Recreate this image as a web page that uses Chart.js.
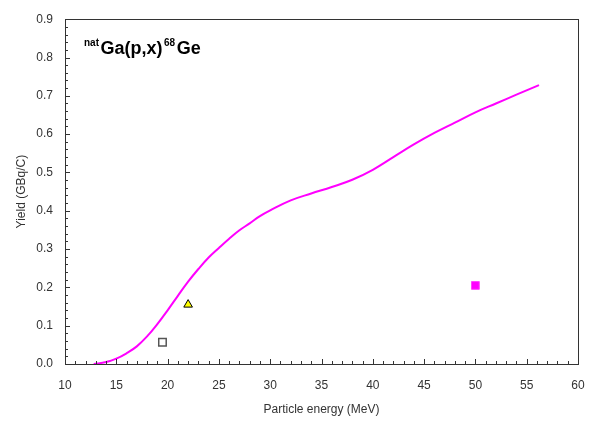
<!DOCTYPE html>
<html>
<head>
<meta charset="utf-8">
<script src="https://cdn.jsdelivr.net/npm/chart.js@4"></script>
<style>
  html, body { margin: 0; padding: 0; background: #fff; }
  #wrap { width: 602px; height: 429px; }
</style>
</head>
<body>
<div id="wrap"><canvas id="yield-chart" width="602" height="429"></canvas></div>
<script>
// calculated thick target yield curve
const curveEnergy = [12.8, 14, 15, 16, 17, 18, 19, 20, 21, 22, 23, 24, 25, 26, 27, 28, 29, 30, 32, 34, 36, 38, 40, 42, 44, 46, 48, 50, 52, 54, 56.2];
const curveYield  = [0.000, 0.005, 0.014, 0.028, 0.046, 0.072, 0.104, 0.140, 0.178, 0.215, 0.248, 0.278, 0.303, 0.327, 0.349, 0.367, 0.386, 0.401, 0.427, 0.445, 0.462, 0.481, 0.507, 0.540, 0.573, 0.603, 0.630, 0.657, 0.680, 0.703, 0.728];

// measured points
const openSquare = [{ x: 19.5, y: 0.057 }];
const triangle = [{ x: 22.0, y: 0.155 }];
const filledSquare = [{ x: 50.0, y: 0.205 }];

const xTicks = [10, 15, 20, 25, 30, 35, 40, 45, 50, 55, 60];
const yTicks = [0, 0.1, 0.2, 0.3, 0.4, 0.5, 0.6, 0.7, 0.8, 0.9];

const curvePoints = curveEnergy.map((e, i) => ({ x: e, y: curveYield[i] }));

// frame + inward minor ticks + reaction label
const framePlugin = {
    id: 'frame',
    afterDatasetsDraw(chart) {
        const ctx = chart.ctx;
        const a = chart.chartArea;
        const xs = chart.scales.x;
        const ys = chart.scales.y;
        ctx.save();
        ctx.strokeStyle = '#333';
        ctx.lineWidth = 1;
        ctx.strokeRect(Math.round(a.left) + 0.5, Math.round(a.top) + 0.5, Math.round(a.right - a.left), Math.round(a.bottom - a.top));

        ctx.beginPath();
        for (let v = 10; v <= 60; v += 1) {
            let px = Math.round(xs.getPixelForValue(v)) + 0.5;
            let len = (v % 5 === 0) ? 5 : 3;
            ctx.moveTo(px, a.bottom);
            ctx.lineTo(px, a.bottom - len);
        }
        for (let k = 0; k <= 45; k++) {
            let v = k * 0.02;
            let py = Math.round(ys.getPixelForValue(v)) + 0.5;
            let len = (k % 5 === 0) ? 5 : 3;
            ctx.moveTo(a.left, py);
            ctx.lineTo(a.left + len, py);
        }
        ctx.stroke();

        // reaction label
        ctx.fillStyle = '#000';
        ctx.textBaseline = 'alphabetic';
        let x = 84;
        const base = 54;
        const parts = [
            { t: 'nat', f: 'bold 10px "Liberation Sans", Arial, sans-serif', dy: -8 },
            { t: 'Ga(p,x)', f: 'bold 18px "Liberation Sans", Arial, sans-serif', dy: 0 },
            { t: '68', f: 'bold 10px "Liberation Sans", Arial, sans-serif', dy: -8 },
            { t: 'Ge', f: 'bold 18px "Liberation Sans", Arial, sans-serif', dy: 0 }
        ];
        for (const p of parts) {
            ctx.font = p.f;
            ctx.fillText(p.t, x, base + p.dy);
            x += ctx.measureText(p.t).width + 1.5;
        }
        ctx.restore();
    }
};

Chart.defaults.font.family = '"Liberation Sans", Arial, sans-serif';
Chart.defaults.font.size = 12;
Chart.defaults.color = '#333';

let ctx = document.getElementById('yield-chart');

let yieldChart = new Chart(ctx, {
    type: 'scatter',
    data: {
        datasets: [{
            label: 'calculated',
            data: curvePoints,
            showLine: true,
            borderColor: '#ff00ff',
            borderWidth: 2,
            pointRadius: 0,
            tension: 0.4,
            order: 2
        }, {
            label: 'open square',
            data: openSquare,
            pointStyle: 'rect',
            pointRadius: 5.3,
            backgroundColor: '#ffffff',
            borderColor: '#555555',
            borderWidth: 1.5,
            order: 1
        }, {
            label: 'triangle',
            data: triangle,
            pointStyle: 'triangle',
            pointRadius: 5,
            backgroundColor: '#ffff00',
            borderColor: '#000000',
            borderWidth: 1,
            order: 1
        }, {
            label: 'filled square',
            data: filledSquare,
            pointStyle: 'rect',
            pointRadius: 5.5,
            backgroundColor: '#ff00ff',
            borderColor: '#ff44ff',
            borderWidth: 1,
            order: 1
        }]
    },
    options: {
        responsive: false,
        animation: false,
        layout: { padding: { left: 10, right: 24, top: 17, bottom: 0 } },
        plugins: {
            legend: { display: false },
            tooltip: { enabled: false }
        },
        scales: {
            x: {
                type: 'linear',
                min: 10,
                max: 60,
                afterBuildTicks: scale => { scale.ticks = xTicks.map(v => ({ value: v })); },
                afterFit: scale => { scale.height = 65; },
                grid: { display: false, drawTicks: false },
                border: { display: false },
                ticks: { padding: 14, color: '#333', font: { size: 12 } },
                title: {
                    display: true,
                    text: 'Particle energy (MeV)',
                    color: '#333',
                    font: { size: 12 },
                    padding: { top: 0, bottom: 12 }
                }
            },
            y: {
                type: 'linear',
                min: 0,
                max: 0.9,
                afterBuildTicks: scale => { scale.ticks = yTicks.map(v => ({ value: v })); },
                afterFit: scale => { scale.width = 55; },
                grid: { display: false, drawTicks: false },
                border: { display: false },
                ticks: {
                    padding: 12,
                    color: '#333',
                    font: { size: 12 },
                    callback: v => Number(v).toFixed(1)
                },
                title: {
                    display: true,
                    text: 'Yield (GBq/C)',
                    color: '#333',
                    font: { size: 12 },
                    padding: { top: 4, bottom: 0 }
                }
            }
        }
    },
    plugins: [framePlugin]
});
</script>
</body>
</html>
